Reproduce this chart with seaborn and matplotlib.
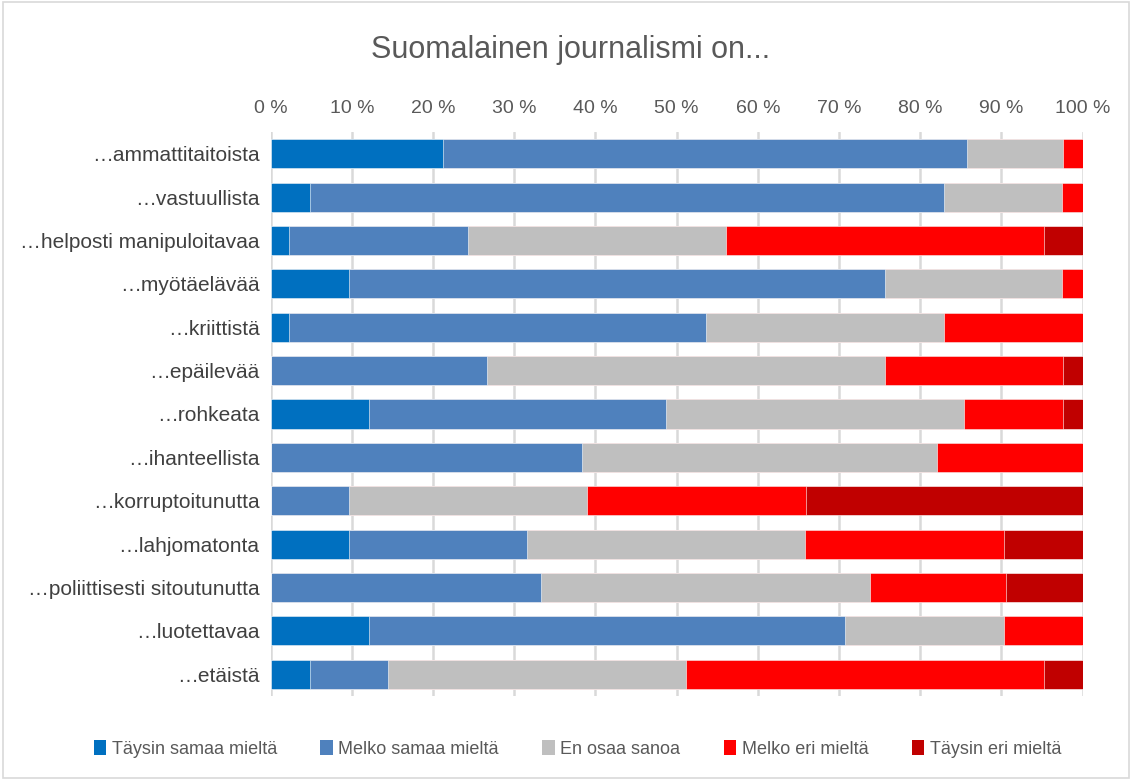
import matplotlib
matplotlib.use("Agg")
import matplotlib.pyplot as plt
from matplotlib.patches import Rectangle
from matplotlib.ticker import FuncFormatter
import numpy as np
import pandas as pd
import seaborn as sns

# Väittämät (ylhäältä alas)
kategoriat = [
    "…ammattitaitoista",
    "…vastuullista",
    "…helposti manipuloitavaa",
    "…myötäelävää",
    "…kriittistä",
    "…epäilevää",
    "…rohkeata",
    "…ihanteellista",
    "…korruptoitunutta",
    "…lahjomatonta",
    "…poliittisesti sitoutunutta",
    "…luotettavaa",
    "…etäistä",
]

# Vastausjakaumat prosentteina
taysin_samaa = [21.2, 4.8, 2.3, 9.7, 2.3, 0.0, 12.1, 0.0, 0.0, 9.7, 0.0, 12.1, 4.8]
melko_samaa = [64.5, 78.1, 22.0, 65.9, 51.3, 26.7, 36.6, 38.3, 9.7, 21.9, 33.3, 58.6, 9.7]
en_osaa = [11.9, 14.6, 31.8, 21.9, 29.3, 49.0, 36.7, 43.8, 29.3, 34.2, 40.5, 19.6, 36.6]
melko_eri = [2.4, 2.5, 39.1, 2.5, 17.1, 21.9, 12.2, 17.9, 26.9, 24.5, 16.7, 9.7, 44.1]
taysin_eri = [0.0, 0.0, 4.8, 0.0, 0.0, 2.4, 2.4, 0.0, 34.1, 9.7, 9.5, 0.0, 4.8]

sarjat = ["Täysin samaa mieltä", "Melko samaa mieltä", "En osaa sanoa",
          "Melko eri mieltä", "Täysin eri mieltä"]
arvot = [taysin_samaa, melko_samaa, en_osaa, melko_eri, taysin_eri]
varit = ["#0070C0", "#4F81BD", "#BFBFBF", "#FF0000", "#C00000"]

sns.set_theme(style="white")
plt.rcParams["font.family"] = ["Liberation Sans", "DejaVu Sans"]

df = pd.DataFrame(np.array(arvot).T, columns=sarjat)
df.insert(0, "väittämä", kategoriat)
kum = df[sarjat].cumsum(axis=1)
kum["väittämä"] = kategoriat

fig = plt.figure(figsize=(11.32, 7.80), dpi=100)
ax = fig.add_axes([0.2391, 0.1077, 0.7173, 0.7231])

# Pinotut palkit: kumulatiiviset summat piirretään suurimmasta pienimpään
for sarja, vari in reversed(list(zip(sarjat, varit))):
    sns.barplot(data=kum, x=sarja, y="väittämä", order=kategoriat, orient="h",
                color=vari, saturation=1, width=0.67, ax=ax,
                edgecolor="white", linewidth=0.4, zorder=3)

ax.set_xlim(0, 100)
ax.set_ylim(len(kategoriat) - 0.5, -0.5)
ax.set_xticks(np.arange(0, 101, 10))
ax.xaxis.set_major_formatter(FuncFormatter(lambda v, p: f"{int(v)} %"))
ax.xaxis.tick_top()
ax.tick_params(axis="x", length=0, pad=11, labelsize=14, labelcolor="#595959")
ax.tick_params(axis="y", length=0, pad=8, labelsize=15, labelcolor="#404040")
ax.set_xlabel("")
ax.set_ylabel("")
ax.grid(axis="x", color="#D9D9D9", linewidth=1.8, zorder=0)
ax.grid(axis="y", visible=False)
for s in ax.spines.values():
    s.set_visible(False)

fig.text(0.504, 0.936, "Suomalainen journalismi on...", ha="center", va="center",
         fontsize=22, color="#595959")

kahvat = [Rectangle((0, 0), 1, 1, facecolor=v, edgecolor="none") for v in varit]
fig.legend(kahvat, sarjat, loc="center", bbox_to_anchor=(0.51, 0.04), ncol=5,
           frameon=False, fontsize=13, handlelength=0.7, handleheight=0.9,
           handletextpad=0.3, columnspacing=2.4, labelcolor="#595959")

fig.patches.append(Rectangle((0.003, 0.003), 0.994, 0.994, transform=fig.transFigure,
                             fill=False, edgecolor="#D9D9D9", linewidth=1.2))

fig.savefig("out.png", dpi=100, facecolor="white")
